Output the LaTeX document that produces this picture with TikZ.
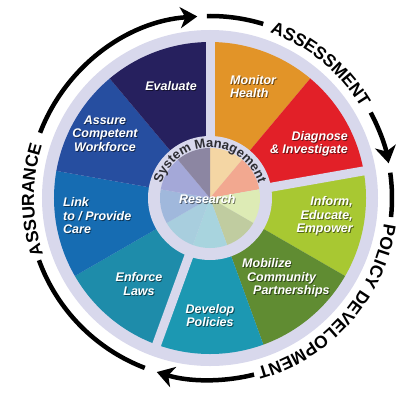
\documentclass[tikz,border=0pt]{standalone}
\usepackage{fontspec}
\usepackage{tikz}
\usetikzlibrary{arrows.meta}
\usetikzlibrary{decorations.text}
\usetikzlibrary{positioning}
\newfontfamily\wheelfont{Liberation Sans}
\definecolor{lav}{RGB}{216,216,236}
\definecolor{monc}{RGB}{226,148,40}
\definecolor{diagc}{RGB}{226,32,40}
\definecolor{informc}{RGB}{168,200,50}
\definecolor{mobilc}{RGB}{96,140,50}
\definecolor{developc}{RGB}{28,152,178}
\definecolor{enforcec}{RGB}{30,140,170}
\definecolor{linkc}{RGB}{22,108,178}
\definecolor{assurec}{RGB}{38,78,160}
\definecolor{evalc}{RGB}{38,32,94}
\definecolor{monp}{RGB}{244,214,164}
\definecolor{diagp}{RGB}{242,168,144}
\definecolor{informp}{RGB}{221,235,181}
\definecolor{mobilp}{RGB}{192,204,160}
\definecolor{developp}{RGB}{168,212,222}
\definecolor{enforcep}{RGB}{168,206,222}
\definecolor{linkp}{RGB}{160,184,220}
\definecolor{assurep}{RGB}{164,168,216}
\definecolor{evalp}{RGB}{140,134,162}
\definecolor{sysgray}{RGB}{45,45,50}
\newcommand{\ringfont}{\wheelfont\bfseries\fontsize{17.5}{17.5}\selectfont}
\newcommand{\sysfont}{\wheelfont\bfseries\fontsize{13}{13}\selectfont\color{sysgray}}
\tikzset{basic label/.style={font=\wheelfont\bfseries\itshape\fontsize{12.5}{13.5}\selectfont,
                             inner sep=0pt}}
\tikzset{wheel text/.style={basic label,text=white}}
\tikzset{wheel shadow/.style={basic label,text=black,opacity=.5,xshift=.9pt,yshift=-.9pt}}
\tikzset{cycle arc/.style={draw=black,
                           line width=4.5pt}}

\begin{document}
\begin{tikzpicture}
      [
      x=1pt,y=1pt,
      cycle tip/.style={-{Stealth[length=17pt,width=21pt,inset=5pt]}},
      ]
      \useasboundingbox (-210,-196) rectangle (193,198);
      \fill[white] (-210,-196) rectangle (193,198);

      % wheel
      \fill[lav] (0,0) circle[radius=168];
      \foreach \a/\c in {90/monc,50/diagc,10/informc,-30/mobilc,-70/developc,
                         -110/enforcec,-150/linkc,-190/assurec,-230/evalc}
      {
      \fill[\c] (0,0) -- (\a:156) arc[start angle=\a,end angle=\a-40,radius=156] -- cycle;
      }
      \foreach \a in {90,10,-110}
      {
      \draw[lav,line width=9pt] (0,0) -- (\a:160);
      }

      % hub
      \fill[lav] (0,0) circle[radius=62];
      \foreach \a/\c in {90/monp,50/diagp,10/informp,-30/mobilp,-70/developp,
                         -110/enforcep,-150/linkp,-190/assurep,-230/evalp}
      {
      \fill[\c] (0,0) -- (\a:50) arc[start angle=\a,end angle=\a-40,radius=50] -- cycle;
      }
      \path[decorate,decoration={text along path,text align=center,
        text={|\sysfont|System Management}}]
        (170:50.5) arc[start angle=170,end angle=10,radius=50.5];

      % labels
      \foreach \n/\p/\an/\al/\t in
      {
      evaluate/{(-39,112)}/center/center/{Evaluate},
      monitor/{(20,111.5)}/west/left/{Monitor\\Health},
      diagnose/{(138,54)}/east/right/{Diagnose\\\&~Investigate},
      inform/{(143,-18)}/east/right/{Inform,\\Educate,\\Empower},
      mobilize/{(32,-80)}/west/left/{Mobilize\\\hspace{5pt}Community\\\hspace{11pt}Partnerships},
      develop/{(0,-117.5)}/center/center/{Develop\\Policies},
      enforce/{(-71,-86)}/center/center/{Enforce\\Laws},
      link/{(-147,-18)}/west/left/{Link\\to / Provide\\Care},
      assure/{(-105,64.5)}/center/center/{Assure\\Competent\\Workforce},
      research/{(-1,-1)}/center/center/{Research}
      }
      {
      \node[wheel shadow,anchor=\an,align=\al] (s\n) at \p {\t};
      \node[wheel text,anchor=\an,align=\al] (\n) at \p {\t};
      }

      % cycle
      \path[decorate,decoration={text along path,text align=center,
        text={|\ringfont|ASSESSMENT}}]
        (76:176) arc[start angle=76,end angle=25,radius=176];
      \path[decorate,decoration={text along path,text align=center,
        text={|\ringfont|POLICY DEVELOPMENT}}]
        (-2:176) arc[start angle=-2,end angle=-81,radius=176];
      \path[decorate,decoration={text along path,text align=center,
        text={|\ringfont|ASSURANCE}}]
        (206:176) arc[start angle=206,end angle=155,radius=176];

      \draw[cycle arc,cycle tip] (159:182) arc[start angle=159,end angle=94,radius=182];
      \draw[cycle arc] (91:182) arc[start angle=91,end angle=73,radius=182];
      \draw[cycle arc,cycle tip] (28:182) arc[start angle=28,end angle=11,radius=182];
      \draw[cycle arc] (8:182) arc[start angle=8,end angle=-6,radius=182];
      \draw[cycle arc,cycle tip] (-76:182) arc[start angle=-76,end angle=-107,radius=182];
      \draw[cycle arc] (-111:182) arc[start angle=-111,end angle=-160,radius=182];

    \end{tikzpicture}
\end{document}
